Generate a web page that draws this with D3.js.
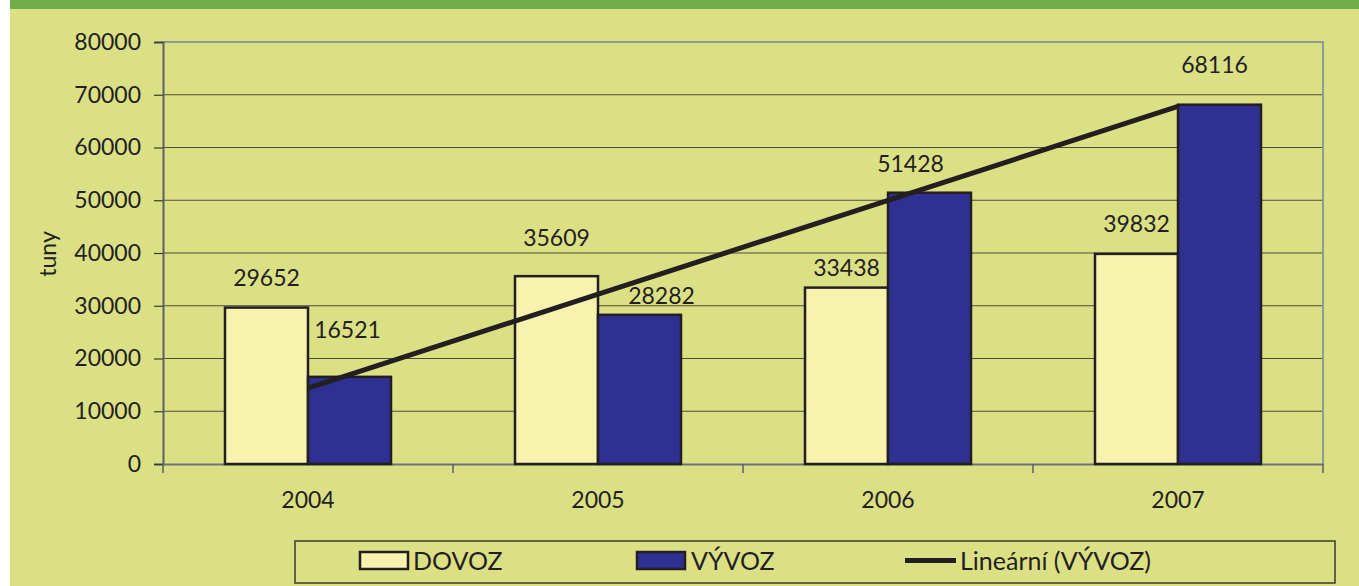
<!DOCTYPE html>
<html>
<head>
<meta charset="utf-8">
<script src="https://cdn.jsdelivr.net/npm/d3@7"></script>
<style>
  body { margin: 0; background: #ffffff; }
  svg { display: block; }
  text { font-family: Lato, "Open Sans", sans-serif; fill: #231f20; }
</style>
</head>
<body>
<div id="chart"></div>
<script>
var years = ['2004', '2005', '2006', '2007'];
var dovoz = [29652, 35609, 33438, 39832];
var vyvoz = [16521, 28282, 51428, 68116];
var yTicks = [0, 10000, 20000, 30000, 40000, 50000, 60000, 70000, 80000];

// label nudges (px) so labels sit where they did in the original
var dovozLabelOff = [[0, -30], [0, -38], [0, -20], [0, -30]];
var vyvozLabelOff = [[-2, -47], [22, -19], [-19, -29], [-5, -40]];

(function () {
	var W = 1359, H = 586;
	var svg = d3.select('#chart').append('svg')
		.attr('width', W)
		.attr('height', H);

	// background panel + green band
	svg.append('rect').attr('x', 10).attr('y', 0).attr('width', W - 10).attr('height', H).attr('fill', '#dce085');
	svg.append('rect').attr('x', 10).attr('y', 0).attr('width', W - 10).attr('height', 9).attr('fill', '#72ad4c');

	var pl = 163, pr = 1323, pt = 42, pb = 464;

	var x = d3.scaleBand().domain(years).range([pl, pr]);
	var xs = d3.scaleBand().domain(['DOVOZ', 'VYVOZ']).range([62, 228]);
	var y = d3.scaleLinear().domain([0, 80000]).range([pb, pt]);

	// gridlines
	svg.append('g').selectAll('line')
		.data(yTicks.filter(function (d) { return d > 0 && d < 80000; }))
		.enter().append('line')
			.attr('x1', pl).attr('x2', pr)
			.attr('y1', function (d) { return y(d); })
			.attr('y2', function (d) { return y(d); })
			.attr('stroke', '#4d4d3a')
			.attr('stroke-width', 1.2);

	// plot border top/right
	svg.append('path')
		.attr('d', 'M' + pl + ',' + y(80000) + 'H' + pr + 'V' + pb)
		.attr('fill', 'none')
		.attr('stroke', '#8e9a9c')
		.attr('stroke-width', 2);

	// y axis
	var yAxis = d3.axisLeft(y).tickValues(yTicks).tickSize(9).tickPadding(13).tickFormat(d3.format('d'));
	var gy = svg.append('g').attr('transform', 'translate(' + pl + ',0)').call(yAxis);
	gy.select('.domain').attr('stroke', '#5a5f66').attr('stroke-width', 2);
	gy.selectAll('.tick line').attr('stroke', '#3a3a30').attr('stroke-width', 1.2);
	gy.selectAll('.tick text').style('font-size', '23px').style('font-family', 'Lato, sans-serif').attr('fill', '#231f20');

	// x axis
	var xAxis = d3.axisBottom(x).tickSize(0).tickPadding(28);
	var gx = svg.append('g').attr('transform', 'translate(0,' + pb + ')').call(xAxis);
	gx.select('.domain').attr('stroke', '#6a7278').attr('stroke-width', 2);
	gx.selectAll('.tick text').style('font-size', '23px').style('font-family', 'Lato, sans-serif').attr('fill', '#231f20');
	svg.append('g').selectAll('line')
		.data(years.map(function (d) { return x(d); }).concat([pr]))
		.enter().append('line')
			.attr('x1', function (d) { return d; }).attr('x2', function (d) { return d; })
			.attr('y1', pb).attr('y2', pb + 9)
			.attr('stroke', '#5a5f66').attr('stroke-width', 1.5);

	// y title
	svg.append('text')
		.attr('transform', 'translate(48,254) rotate(-90)')
		.attr('dy', '0.35em')
		.attr('text-anchor', 'middle')
		.style('font-size', '23px')
		.text('tuny');

	// bars
	var series = [
		{ key: 'DOVOZ', values: dovoz, fill: '#f7f3ae', off: dovozLabelOff },
		{ key: 'VYVOZ', values: vyvoz, fill: '#2e3192', off: vyvozLabelOff }
	];

	series.forEach(function (s) {
		var g = svg.append('g');
		g.selectAll('rect')
			.data(s.values)
			.enter().append('rect')
				.attr('x', function (d, i) { return x(years[i]) + xs(s.key); })
				.attr('y', function (d) { return y(d); })
				.attr('width', xs.bandwidth())
				.attr('height', function (d) { return pb - y(d); })
				.attr('fill', s.fill)
				.attr('stroke', '#231f20')
				.attr('stroke-width', 2.5);
		g.selectAll('text')
			.data(s.values)
			.enter().append('text')
				.attr('x', function (d, i) { return x(years[i]) + xs(s.key) + xs.bandwidth() / 2 + s.off[i][0]; })
				.attr('y', function (d, i) { return y(d) + s.off[i][1]; })
				.attr('dy', '0.35em')
				.attr('text-anchor', 'middle')
				.style('font-size', '23px')
				.text(function (d) { return d; });
	});

	// linear trend of VYVOZ
	var n = vyvoz.length;
	var mx = d3.mean(vyvoz, function (d, i) { return i + 1; });
	var my = d3.mean(vyvoz);
	var sxy = d3.sum(vyvoz, function (d, i) { return (i + 1 - mx) * (d - my); });
	var sxx = d3.sum(vyvoz, function (d, i) { return (i + 1 - mx) * (i + 1 - mx); });
	var slope = sxy / sxx, icpt = my - slope * mx;
	var trend = years.map(function (yr, i) { return [x(yr) + x.bandwidth() / 2, y(icpt + slope * (i + 1))]; });
	svg.append('path')
		.attr('d', d3.line()([trend[0], trend[n - 1]]))
		.attr('fill', 'none')
		.attr('stroke', '#231f20')
		.attr('stroke-width', 5);

	// legend
	var lg = svg.append('g');
	lg.append('rect').attr('x', 295).attr('y', 541).attr('width', 1040).attr('height', 42)
		.attr('fill', 'none').attr('stroke', '#3a3a30').attr('stroke-width', 1.5);
	var items = [
		{ label: 'DOVOZ', type: 'rect', fill: '#f7f3ae', x: 360, tx: 413 },
		{ label: 'VÝVOZ', type: 'rect', fill: '#2e3192', x: 637, tx: 691 },
		{ label: 'Lineární (VÝVOZ)', type: 'line', x: 905, tx: 960 }
	];
	items.forEach(function (it) {
		if (it.type === 'rect') {
			lg.append('rect').attr('x', it.x).attr('y', 552).attr('width', 48).attr('height', 17)
				.attr('fill', it.fill).attr('stroke', '#231f20').attr('stroke-width', 2.5);
		} else {
			lg.append('line').attr('x1', it.x).attr('x2', it.x + 51).attr('y1', 560.5).attr('y2', 560.5)
				.attr('stroke', '#231f20').attr('stroke-width', 5);
		}
		lg.append('text').attr('x', it.tx).attr('y', 561).attr('dy', '0.35em')
			.style('font-size', '25px').text(it.label);
	});
})();
</script>
</body>
</html>
